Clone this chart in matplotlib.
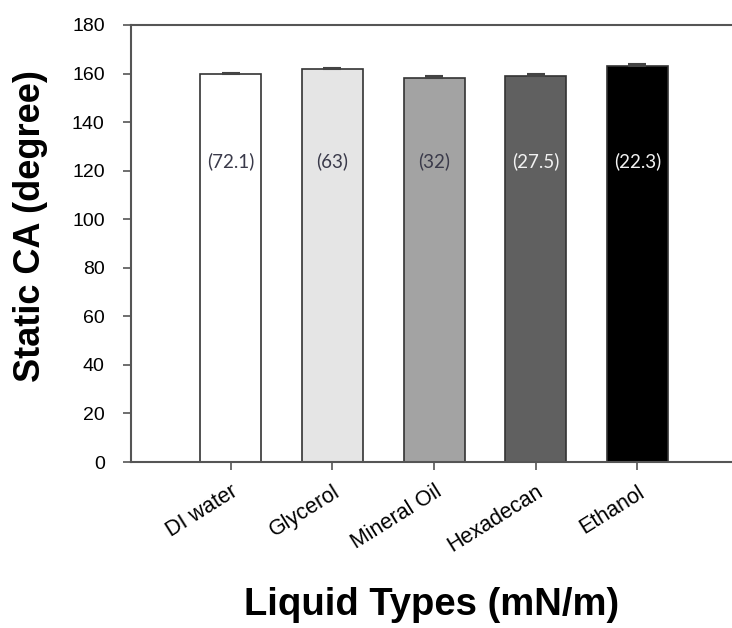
import numpy as np
import matplotlib.pyplot as plt

# static contact angle per liquid, with surface tension (mN/m) shown on each bar
liquids = ['DI water', 'Glycerol', 'Mineral Oil', 'Hexadecan', 'Ethanol']
contact_angle = [159.8, 162.0, 158.1, 158.8, 163.2]
angle_err = [0.5, 0.4, 1.0, 0.9, 0.9]
surface_tension = ['72.1', '63', '32', '27.5', '22.3']
bar_colors = ['#ffffff', '#e5e5e5', '#a3a3a3', '#606060', '#000000']
label_colors = ['#3a3a4a', '#3a3a4a', '#3a3a4a', '#f2f2f2', '#f2f2f2']

plt.rcParams['font.family'] = ['Liberation Sans', 'DejaVu Sans']

fig = plt.figure(figsize=(7.32, 6.28), dpi=100)
ax = fig.add_axes([0.179, 0.2643, 0.821, 0.6959])

x = np.arange(len(liquids))
ax.bar(x, contact_angle, width=0.6, color=bar_colors, edgecolor='#333333',
       linewidth=1.2, zorder=2)
ax.errorbar(x, contact_angle, yerr=[np.zeros(len(x)), angle_err], fmt='none',
            ecolor='#444444', elinewidth=1.2, capsize=6.5, capthick=1.5, zorder=3)

# surface tension values written inside the bars
for xi, st, c in zip(x, surface_tension, label_colors):
    ax.text(xi, 123.7, f'({st})', ha='center', va='center', fontsize=13.5,
            color=c, family=['Lato', 'DejaVu Sans'])

ax.set_xlim(-0.98, 4.93)
ax.set_ylim(0, 180)
ax.set_yticks(np.arange(0, 181, 20))
ax.set_xticks(x)
ax.set_xticklabels(liquids, rotation=32, ha='right', rotation_mode='anchor',
                   fontsize=15.5)
ax.tick_params(axis='y', labelsize=14, length=6, width=1.2, color='#555555',
               direction='out', pad=13)
ax.tick_params(axis='x', length=6, width=1.2, color='#555555', direction='out',
               pad=8)

for side in ['left', 'bottom', 'top']:
    ax.spines[side].set_color('#555555')
    ax.spines[side].set_linewidth(1.5)
ax.spines['right'].set_visible(False)

ax.set_ylabel('Static CA (degree)', fontsize=26, fontweight='bold')
ax.yaxis.set_label_coords(-0.168, 0.54)
ax.set_xlabel('Liquid Types (mN/m)', fontsize=27.5, fontweight='bold')
ax.xaxis.set_label_coords(0.5, -0.327)
ax.xaxis.label.set_va('center')
ax.yaxis.label.set_va('center')

fig.savefig('out.png', dpi=100)
